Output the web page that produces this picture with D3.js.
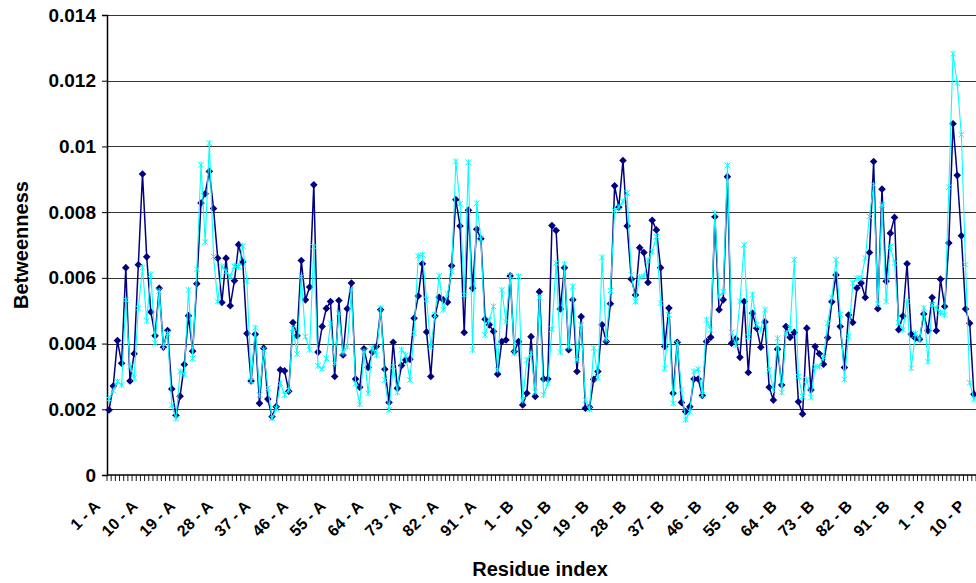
<!DOCTYPE html>
<html>
<head>
<meta charset="utf-8">
<script src="https://cdn.jsdelivr.net/npm/d3@7"></script>
<style>
  body { margin: 0; background: #fff; }
  text { font-family: "Liberation Sans", Arial, sans-serif; }
</style>
</head>
<body>
<div id="chart"></div>
<script>
// chains and their residue counts (category axis = residue - chain)
const chains = ["A", "B", "P"];
const chainLengths = [99, 99, 10];

// y ticks
const yTicks = [0, 0.002, 0.004, 0.006, 0.008, 0.01, 0.012, 0.014];

// series 1 (navy, diamonds)
const seriesDark = [
  0.00198, 0.00271, 0.00409, 0.00340, 0.00631, 0.00286, 0.00369, 0.00640, 0.00916, 0.00664,
  0.00496, 0.00424, 0.00568, 0.00389, 0.00440, 0.00262, 0.00181, 0.00240, 0.00336, 0.00485,
  0.00377, 0.00582, 0.00828, 0.00856, 0.00924, 0.00811, 0.00660, 0.00525, 0.00660, 0.00515,
  0.00591, 0.00701, 0.00648, 0.00431, 0.00286, 0.00428, 0.00218, 0.00386, 0.00231, 0.00178,
  0.00208, 0.00320, 0.00317, 0.00255, 0.00464, 0.00424, 0.00653, 0.00533, 0.00572, 0.00883,
  0.00374, 0.00452, 0.00507, 0.00528, 0.00300, 0.00531, 0.00365, 0.00506, 0.00584, 0.00292,
  0.00267, 0.00384, 0.00327, 0.00374, 0.00391, 0.00503, 0.00322, 0.00221, 0.00404, 0.00264,
  0.00333, 0.00350, 0.00352, 0.00477, 0.00545, 0.00643, 0.00435, 0.00300, 0.00484, 0.00541,
  0.00533, 0.00526, 0.00637, 0.00838, 0.00758, 0.00434, 0.00806, 0.00568, 0.00748, 0.00719,
  0.00474, 0.00457, 0.00437, 0.00307, 0.00406, 0.00411, 0.00606, 0.00376, 0.00406,
  0.00213, 0.00249, 0.00421, 0.00239, 0.00558, 0.00292, 0.00292, 0.00759, 0.00744, 0.00505,
  0.00631, 0.00381, 0.00533, 0.00315, 0.00482, 0.00203, 0.00206, 0.00291, 0.00315, 0.00457,
  0.00406, 0.00521, 0.00880, 0.00815, 0.00957, 0.00758, 0.00596, 0.00548, 0.00692, 0.00677,
  0.00586, 0.00775, 0.00746, 0.00631, 0.00391, 0.00508, 0.00249, 0.00404, 0.00221, 0.00193,
  0.00208, 0.00292, 0.00292, 0.00242, 0.00406, 0.00419, 0.00786, 0.00503, 0.00533, 0.00908,
  0.00401, 0.00414, 0.00358, 0.00528, 0.00312, 0.00492, 0.00447, 0.00389, 0.00466, 0.00267,
  0.00228, 0.00383, 0.00274, 0.00452, 0.00419, 0.00434, 0.00223, 0.00186, 0.00447, 0.00259,
  0.00391, 0.00369, 0.00337, 0.00418, 0.00527, 0.00609, 0.00452, 0.00327, 0.00487, 0.00464,
  0.00569, 0.00584, 0.00540, 0.00677, 0.00954, 0.00506, 0.00870, 0.00590, 0.00736, 0.00784,
  0.00442, 0.00484, 0.00643, 0.00428, 0.00416, 0.00413, 0.00490, 0.00439, 0.00540,
  0.00439, 0.00596, 0.00513, 0.00706, 0.01069, 0.00912, 0.00728, 0.00505, 0.00462, 0.00246
];

// series 2 (cyan, crosses)
const seriesCyan = [
  0.00231, 0.00257, 0.00284, 0.00274, 0.00533, 0.00330, 0.00296, 0.00508, 0.00631, 0.00469,
  0.00611, 0.00401, 0.00560, 0.00391, 0.00431, 0.00213, 0.00171, 0.00315, 0.00307, 0.00563,
  0.00355, 0.00626, 0.00944, 0.00709, 0.01010, 0.00665, 0.00528, 0.00635, 0.00619, 0.00604,
  0.00635, 0.00635, 0.00697, 0.00589, 0.00286, 0.00448, 0.00244, 0.00381, 0.00264, 0.00173,
  0.00203, 0.00279, 0.00244, 0.00259, 0.00447, 0.00368, 0.00604, 0.00421, 0.00381, 0.00695,
  0.00332, 0.00323, 0.00355, 0.00462, 0.00340, 0.00492, 0.00373, 0.00391, 0.00563, 0.00279,
  0.00215, 0.00376, 0.00249, 0.00386, 0.00365, 0.00508, 0.00289, 0.00198, 0.00330, 0.00251,
  0.00381, 0.00365, 0.00289, 0.00431, 0.00667, 0.00670, 0.00535, 0.00391, 0.00487, 0.00606,
  0.00503, 0.00551, 0.00619, 0.00954, 0.00825, 0.00548, 0.00952, 0.00381, 0.00827, 0.00719,
  0.00426, 0.00472, 0.00513, 0.00320, 0.00563, 0.00467, 0.00606, 0.00371, 0.00604,
  0.00228, 0.00350, 0.00370, 0.00253, 0.00540, 0.00244, 0.00279, 0.00444, 0.00645, 0.00374,
  0.00642, 0.00391, 0.00574, 0.00350, 0.00457, 0.00228, 0.00200, 0.00386, 0.00296, 0.00662,
  0.00413, 0.00561, 0.00805, 0.00815, 0.00832, 0.00858, 0.00609, 0.00528, 0.00602, 0.00604,
  0.00653, 0.00680, 0.00726, 0.00523, 0.00325, 0.00487, 0.00218, 0.00401, 0.00259, 0.00168,
  0.00193, 0.00315, 0.00322, 0.00244, 0.00472, 0.00442, 0.00797, 0.00543, 0.00558, 0.00942,
  0.00434, 0.00396, 0.00528, 0.00700, 0.00421, 0.00548, 0.00457, 0.00442, 0.00503, 0.00320,
  0.00259, 0.00416, 0.00251, 0.00431, 0.00447, 0.00655, 0.00300, 0.00239, 0.00290, 0.00236,
  0.00330, 0.00330, 0.00358, 0.00462, 0.00540, 0.00655, 0.00489, 0.00291, 0.00421, 0.00584,
  0.00599, 0.00599, 0.00660, 0.00787, 0.00883, 0.00521, 0.00822, 0.00528, 0.00695, 0.00645,
  0.00464, 0.00442, 0.00528, 0.00325, 0.00431, 0.00411, 0.00508, 0.00345, 0.00518,
  0.00508, 0.00494, 0.00487, 0.00876, 0.01282, 0.01193, 0.01036, 0.00640, 0.00281, 0.00230
];

// category labels "1 - A", "2 - A", ...
const categories = [];
chains.forEach((c, k) => {
  for (let r = 1; r <= chainLengths[k]; r++) categories.push(r + " - " + c);
});

const W = 976, H = 583;
const margin = {top: 15, right: 0, bottom: 108, left: 107};
const labelEvery = 9;

const svg = d3.select("#chart").append("svg")
  .attr("width", W)
  .attr("height", H);

const x = d3.scaleBand()
  .domain(d3.range(categories.length))
  .range([margin.left, W - margin.right]);
const cx = i => x(i) + x.bandwidth() / 2;

const y = d3.scaleLinear()
  .domain([0, 0.014])
  .range([H - margin.bottom, margin.top]);

// gridlines
svg.append("g")
  .selectAll("line")
  .data(yTicks.filter(d => d > 0))
  .join("line")
  .attr("x1", margin.left)
  .attr("x2", W - margin.right)
  .attr("y1", d => Math.round(y(d)) + 0.5)
  .attr("y2", d => Math.round(y(d)) + 0.5)
  .attr("stroke", "#333")
  .attr("stroke-width", 1.2);

// y axis
const yAxis = svg.append("g")
  .attr("transform", "translate(" + margin.left + ",0)")
  .call(d3.axisLeft(y).tickValues(yTicks).tickFormat(d3.format("~g")).tickSize(5).tickPadding(6));
yAxis.select(".domain").attr("stroke", "#000").attr("stroke-width", 1.5);
yAxis.selectAll(".tick line").attr("stroke", "#000");
yAxis.selectAll(".tick text")
  .attr("font-size", 19)
  .attr("font-weight", "bold")
  .attr("fill", "#000");

// x axis line + ticks between categories
const x0 = H - margin.bottom;
svg.append("line")
  .attr("x1", margin.left).attr("x2", W - margin.right)
  .attr("y1", x0).attr("y2", x0)
  .attr("stroke", "#000").attr("stroke-width", 1.5);

svg.append("g")
  .selectAll("line")
  .data(d3.range(categories.length + 1))
  .join("line")
  .attr("x1", i => (i < categories.length ? x(i) : x.range()[1]))
  .attr("x2", i => (i < categories.length ? x(i) : x.range()[1]))
  .attr("y1", x0)
  .attr("y2", x0 + 6)
  .attr("stroke", "#000")
  .attr("stroke-width", 0.9);

// x tick labels, every 9th category
svg.append("g")
  .selectAll("text")
  .data(d3.range(0, categories.length, labelEvery))
  .join("text")
  .attr("transform", i => "translate(" + (cx(i) - 8) + "," + (x0 + 32) + ") rotate(-45)")
  .attr("text-anchor", "end")
  .attr("font-size", 16)
  .attr("font-weight", "bold")
  .attr("fill", "#000")
  .text(i => categories[i]);

// axis titles
svg.append("text")
  .attr("x", 540)
  .attr("y", 576)
  .attr("text-anchor", "middle")
  .attr("font-size", 20)
  .attr("font-weight", "bold")
  .text("Residue index");

svg.append("text")
  .attr("transform", "translate(28,245) rotate(-90)")
  .attr("text-anchor", "middle")
  .attr("font-size", 20)
  .attr("font-weight", "bold")
  .text("Betweenness");

const line = d3.line()
  .x((d, i) => cx(i))
  .y(d => y(d));

// navy series
svg.append("path")
  .attr("fill", "none")
  .attr("stroke", "#000080")
  .attr("stroke-width", 1.5)
  .attr("d", line(seriesDark));

svg.append("g")
  .selectAll("path")
  .data(seriesDark)
  .join("path")
  .attr("transform", (d, i) => "translate(" + cx(i) + "," + y(d) + ")")
  .attr("d", "M0,-3.8L3.8,0L0,3.8L-3.8,0Z")
  .attr("fill", "#000080");

// cyan series
svg.append("path")
  .attr("fill", "none")
  .attr("stroke", "#00FFFF")
  .attr("stroke-width", 1.1)
  .attr("d", line(seriesCyan));

svg.append("g")
  .selectAll("path")
  .data(seriesCyan)
  .join("path")
  .attr("transform", (d, i) => "translate(" + cx(i) + "," + y(d) + ")")
  .attr("d", "M-2.8,-2.8L2.8,2.8M-2.8,2.8L2.8,-2.8M0,-3.2L0,3.2")
  .attr("stroke", "#00FFFF")
  .attr("stroke-width", 1)
  .attr("fill", "none");
</script>
</body>
</html>
